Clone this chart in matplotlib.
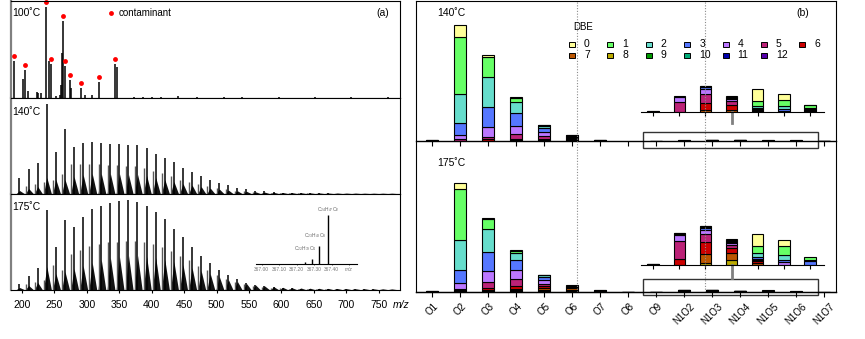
import matplotlib.pyplot as plt
from matplotlib.patches import Rectangle

plt.rcParams['font.family'] = ['Liberation Sans', 'DejaVu Sans']
plt.rcParams['mathtext.default'] = 'regular'

W, H = 865, 339

# ---------------- (a) mass spectra ----------------
# 100 C: isolated peaks (m/z, height)
mz_100 = [187.7, 201.6, 204.2, 209.3, 222.8, 224.8, 230.0, 237.7, 241.8, 244.4,
          252.1, 258.0, 259.9, 261.4, 262.9, 266.5, 273.7, 275.7, 290.3, 296.4,
          307.7, 319.0, 343.7, 345.9, 372, 386, 400, 414, 441, 470, 512, 540,
          596, 652, 708, 764]
int_100 = [36.7, 19, 27.7, 7, 6, 5, 5, 91, 37, 34,
           2, 3, 13, 45, 77, 32, 17.7, 10, 10, 3,
           3, 16, 33.7, 31, 1, 1, 1, 1, 2, 1, 1, 1,
           1, 1, 0.8, 0.8]
contaminant_mz = [187.7, 204.2, 237.7, 244.4, 262.9, 266.5, 273.7, 290.3, 319.0, 343.7]

# 140 C / 175 C: CH2 clusters (main line, line at m-4, unresolved hump)
cluster_mz = [196, 210, 224, 238, 252, 266, 280, 294, 308, 322, 336, 350, 364, 378,
              392, 406, 420, 434, 448, 462, 476, 490, 504, 518, 532, 546, 560, 574,
              588, 602, 616, 630, 644, 658, 672, 686, 700, 714, 728, 742, 756, 770]
main_140 = [15.7, 24.7, 30.7, 90, 41.7, 65, 46.7, 50.7, 51.7, 50.7, 49.7, 49.7, 49, 49,
            46.3, 39.7, 36.3, 32.3, 25.7, 21.7, 18.3, 14, 10.7, 9, 6.3, 5, 3.3, 2.7,
            2, 1.5, 1.2, 1, 0.8, 0.7, 0.6, 0.5, 0.5, 0.4, 0.4, 0.3, 0.3, 0.3]
second_140 = [0, 8, 10, 12, 14, 20, 30, 30, 30, 30, 29, 29, 28, 28,
              26, 23, 21, 18, 14, 12, 10, 8, 6, 5, 3.5, 2.8, 2, 1.5,
              1.2, 1, 0.8, 0.7, 0.6, 0.5, 0.4, 0.4, 0.4, 0.3, 0.3, 0.3, 0.3, 0.3]
hump_140 = [3, 5, 7, 16, 14, 14, 17, 19, 20, 20, 20, 20, 19, 19,
            18, 16, 14, 12, 10, 8.5, 7, 5.5, 4.5, 3.5, 2.7, 2.2, 1.7, 1.4,
            1.2, 1, 0.9, 0.8, 0.7, 0.6, 0.5, 0.5, 0.4, 0.4, 0.3, 0.3, 0.3, 0.3]
main_175 = [6, 14, 21.7, 80, 43.3, 70, 63.3, 73.3, 80.7, 84, 87.3, 89.3, 90, 88.3,
            84, 78.3, 70.7, 60.7, 53.3, 42.7, 34, 27.3, 20, 15, 10.7, 7.3, 5, 3.7,
            2.7, 2, 1.7, 1.3, 1.1, 1, 0.9, 0.8, 0.7, 0.7, 0.6, 0.6, 0.5, 0.5]
second_175 = [0, 6, 8, 10, 25, 20, 36, 40, 44, 46, 48, 48, 49, 49,
              48, 46, 43, 39, 34, 30, 24, 20, 15, 11, 8, 6, 4, 3,
              2.2, 1.8, 1.5, 1.2, 1, 0.9, 0.8, 0.7, 0.6, 0.6, 0.5, 0.5, 0.5, 0.4]
hump_175 = [2, 4, 7, 23, 16, 18, 21, 24, 27, 30, 32, 33, 34, 34,
            33, 32, 30, 28, 25, 22, 19, 16, 13, 10, 8, 6, 4.5, 3.5,
            2.8, 2.2, 1.8, 1.5, 1.3, 1.2, 1.1, 1, 0.9, 0.8, 0.8, 0.7, 0.7, 0.6]

# high-resolution inset at nominal m/z 367
inset_mz = [367.25, 367.29, 367.33, 367.38]
inset_int = [2, 5.3, 18.3, 49.3]
inset_labels = [None, 'C$_{22}$H$_{39}$O$_4$', 'C$_{23}$H$_{43}$O$_3$', 'C$_{24}$H$_{47}$O$_2$']

# ---------------- (b) class / DBE distribution ----------------
categories = ['O1', 'O2', 'O3', 'O4', 'O5', 'O6', 'O7', 'O8', 'O9',
              'N1O2', 'N1O3', 'N1O4', 'N1O5', 'N1O6', 'N1O7']
dbe_values = list(range(13))
dbe_colors = ['#FFFF99', '#66FF66', '#66DDCC', '#5577FF', '#BB77FF', '#BB2277', '#CC0000',
              '#BB5500', '#BBAA00', '#009900', '#00AA77', '#0000AA', '#5500AA']

# rows = classes, columns = DBE 0..12
bars_140 = [
    [0, 6, 10, 8, 6, 0, 0, 0, 0, 0, 0, 0, 0],
    [246, 1140, 580, 240, 80, 34, 0, 0, 0, 0, 0, 0, 0],
    [40, 406, 600, 400, 186, 54, 34, 0, 0, 0, 0, 0, 0],
    [12, 80, 220, 260, 160, 100, 34, 16, 0, 0, 0, 0, 0],
    [6, 10, 50, 80, 80, 60, 20, 14, 6, 0, 0, 0, 0],
    [0, 0, 6, 10, 24, 20, 20, 20, 10, 6, 4, 0, 0],
    [0, 0, 6, 6, 6, 6, 6, 0, 0, 0, 0, 0, 0],
    [0, 0, 0, 0, 0, 0, 0, 0, 0, 0, 0, 0, 0],
    [0, 0, 0.3, 0.3, 0.2, 0.2, 0, 0, 0, 0, 0, 0, 0],
    [0, 0, 1.6, 0, 5, 9.7, 0, 0, 0, 0, 0, 0, 0],
    [0.4, 0.4, 0.5, 1.7, 5.3, 9, 6.7, 2.3, 0, 0, 0, 0, 0],
    [1.3, 0.5, 0.5, 0.7, 2, 4.3, 4.7, 2.3, 0, 0, 0, 0, 0],
    [12, 5, 2.3, 1, 1, 1, 1, 0, 0, 0, 0, 0, 0],
    [6.3, 5.7, 3, 2.3, 1, 0, 0, 0, 0, 0, 0, 0, 0],
    [0.6, 2.7, 0.6, 1.4, 1, 0.6, 0.4, 0, 0, 0, 0, 0, 0],
]
bars_175 = [
    [0, 6, 8, 8, 8, 0, 0, 0, 0, 0, 0, 0, 0],
    [120, 1020, 600, 260, 120, 34, 20, 14, 0, 0, 0, 0, 0],
    [20, 200, 460, 380, 220, 120, 54, 20, 14, 0, 0, 0, 0],
    [16, 30, 140, 200, 180, 140, 60, 34, 20, 14, 0, 0, 0],
    [6, 10, 26, 60, 80, 54, 34, 46, 20, 14, 0, 0, 0],
    [0, 0, 4, 6, 10, 20, 20, 24, 20, 16, 10, 4, 0],
    [0, 0, 4, 6, 8, 8, 8, 6, 0, 0, 0, 0, 0],
    [0, 0, 0, 2, 2, 2, 2, 2, 0, 0, 0, 0, 0],
    [0, 0, 0.2, 0.2, 0.2, 0.2, 0.2, 0, 0, 0, 0, 0, 0],
    [0.3, 0.4, 0.5, 0.5, 6, 18.3, 6, 0, 0, 0, 0, 0, 0],
    [0.6, 0.8, 0.9, 1.7, 4, 8.7, 11.7, 9, 2, 0, 0, 0, 0],
    [1, 1, 1.3, 1, 2, 3, 5, 6.7, 5.3, 0, 0, 0, 0],
    [12, 7.3, 4, 1.5, 1.4, 1.4, 1.7, 2, 0, 0, 0, 0, 0],
    [5.7, 9.3, 4.7, 2, 3.3, 0, 0, 0, 0, 0, 0, 0, 0],
    [0, 3, 1.6, 3.7, 0, 0, 0, 0, 0, 0, 0, 0, 0],
]
inset_first = 8          # insets show O9 ... N1O7
zoom_factor = 20         # inset magnification


def box(x0, y0, x1, y1):
    return [x0 / W, 1 - y1 / H, (x1 - x0) / W, (y1 - y0) / H]


def put(x, y, s, **kw):
    fig.text(x / W, 1 - y / H, s, **kw)


def bare(ax, keep=('bottom',)):
    for name, sp in ax.spines.items():
        sp.set_visible(name in keep)
    ax.set_yticks([])
    ax.patch.set_alpha(0)


def draw_clusters(ax, main, second, hump):
    for m, h in zip(cluster_mz, hump):
        ax.fill([m - 4, m + 1, m + 8], [0, h, 0], color='0.08', lw=0)
    ax.vlines([m - 4 for m in cluster_mz], 0, second, color='0.35', lw=1)
    ax.vlines(cluster_mz, 0, main, color='black', lw=1.1)


def stack(ax, xs, rows, width):
    bottoms = [0] * len(rows)
    for d in reversed(dbe_values):
        bx, bh, bb = [], [], []
        for i, row in enumerate(rows):
            if row[d] > 0:
                bx.append(xs[i])
                bh.append(row[d])
                bb.append(bottoms[i])
                bottoms[i] += row[d]
        if bx:
            ax.bar(bx, bh, width, bottom=bb, color=dbe_colors[d],
                   edgecolor='black', linewidth=0.8)


fig = plt.figure(figsize=(W / 100, H / 100), dpi=100)

# ---- left panel ----
left_boxes = [(11, 0.5, 400, 97.7), (11, 97.7, 400, 194), (11, 194, 400, 290)]
axes_a = []
for b in left_boxes:
    ax = fig.add_axes(box(*b))
    ax.set_xlim(183, 783)
    ax.set_ylim(0, b[3] - b[1])
    ax.set_yticks([])
    ax.set_xticks([])
    ax.spines['left'].set_color('0.5')
    ax.spines['left'].set_linewidth(1.6)
    axes_a.append(ax)

ax100, ax140a, ax175a = axes_a
ax100.vlines(mz_100, 0, int_100, color='black', lw=1.1)
for m in contaminant_mz:
    h = int_100[mz_100.index(m)]
    ax100.plot(m, h + 5, 'o', color='red', ms=3.5, mec='none', clip_on=False)
ax100.plot([111 / W], [1 - 13 / H], 'o', color='red', ms=3.5, mec='none',
           transform=fig.transFigure, clip_on=False)
put(119, 13, 'contaminant', fontsize=7, va='center')

draw_clusters(ax140a, main_140, second_140, hump_140)
draw_clusters(ax175a, main_175, second_175, hump_175)

ax175a.set_xticks(range(200, 751, 50))
ax175a.tick_params(axis='x', direction='out', length=2, pad=5, labelsize=7.5)
put(401, 305, 'm/z', fontsize=7.5, style='italic', ha='center', va='center')

for y, s in [(13, '100˚C'), (112, '140˚C'), (206.5, '175˚C')]:
    put(12, y, s, fontsize=7.5, va='center')
put(382.5, 13, '(a)', fontsize=7.5, ha='center', va='center')

# inset spectrum
axi = fig.add_axes(box(256, 205, 357, 264.3))
bare(axi)
axi.set_xlim(366.967, 367.545)
axi.set_ylim(0, 59.3)
axi.vlines(inset_mz, 0, inset_int, color='black', lw=1)
axi.set_xticks([367.0, 367.1, 367.2, 367.3, 367.4, 367.5])
axi.set_xticklabels(['367.00', '367.10', '367.20', '367.30', '367.40', 'm/z'])
axi.get_xticklabels()[-1].set_style('italic')
axi.tick_params(axis='x', length=1, width=0.5, pad=1, labelsize=3.5, labelcolor='0.45')
axi.spines['bottom'].set_linewidth(0.8)
for (m, h, lab), dx, dy in zip(zip(inset_mz, inset_int, inset_labels),
                               [0, -5, -3, 0], [0, 4, 4, 1]):
    if lab:
        axi.annotate(lab, (m, h), xytext=(dx, dy), textcoords='offset points',
                     ha='center', va='bottom', fontsize=3.5, color='0.4')

# ---- right panel ----
xs = list(range(len(categories)))
xlim_b = (-0.57, 14.43)

ax140 = fig.add_axes(box(416, 0.5, 836, 141))
ax175 = fig.add_axes(box(416, 150, 836, 292))
for ax, rows, top_px in [(ax140, bars_140, 140.5), (ax175, bars_175, 142)]:
    bare(ax)
    ax.set_xlim(*xlim_b)
    ax.set_ylim(0, top_px * zoom_factor)
    stack(ax, xs, rows, 0.4)
    ax.set_xticks(xs)
    ax.tick_params(axis='x', direction='out', length=3.5, width=0.8)
    ax.spines['bottom'].set_linewidth(1)
ax140.set_xticklabels([])
ax175.set_xticklabels(categories, rotation=45, ha='center', va='top', fontsize=7)
ax175.tick_params(axis='x', pad=3)

inset_boxes = [(ax140, bars_140, (641, 60, 824, 112), -140, 11),
               (ax175, bars_175, (641, 205, 824, 265), -60, 13)]
for ax, rows, b, rect_y, link in inset_boxes:
    axn = fig.add_axes(box(*b))
    bare(axn)
    sub = rows[inset_first:]
    nx = list(range(len(sub)))
    axn.set_xlim(-0.46, 6.53)
    axn.set_ylim(0, b[3] - b[1])
    stack(axn, nx, sub, 0.43)
    axn.set_xticks(nx)
    axn.set_xticklabels([])
    axn.tick_params(axis='x', direction='out', length=3, width=0.8)
    axn.plot([3, 3], [0, -link], color='0.5', lw=2, clip_on=False)
    ax.add_patch(Rectangle((7.54, rect_y), 6.25, 16 * zoom_factor, fill=False,
                           ec='0.2', lw=1, clip_on=False))

frame = fig.add_axes(box(416, 0.5, 836, 292))
frame.set_xlim(*xlim_b)
frame.set_ylim(0, 1)
frame.set_xticks([])
frame.set_yticks([])
frame.patch.set_alpha(0)
for x in (5.18, 9.75):
    frame.axvline(x, color='0.55', lw=0.8, ls=(0, (1, 1.5)))

put(437, 13.5, '140˚C', fontsize=7.5, va='center')
put(437, 163.5, '175˚C', fontsize=7.5, va='center')
put(803, 13, '(b)', fontsize=7.5, ha='center', va='center')

# DBE key
put(573, 27, 'DBE', fontsize=7, va='center')
for d in dbe_values:
    r, c = divmod(d, 7)
    x = 569 + 38.4 * c
    y = 44 + 11 * r
    fig.add_artist(Rectangle((x / W, 1 - (y + 2.5) / H), 6 / W, 5 / H,
                             transform=fig.transFigure, fc=dbe_colors[d],
                             ec='black', lw=0.7))
    put(x + 15, y, str(d), fontsize=7.5, va='center')

fig.savefig('out.png', dpi=100)
